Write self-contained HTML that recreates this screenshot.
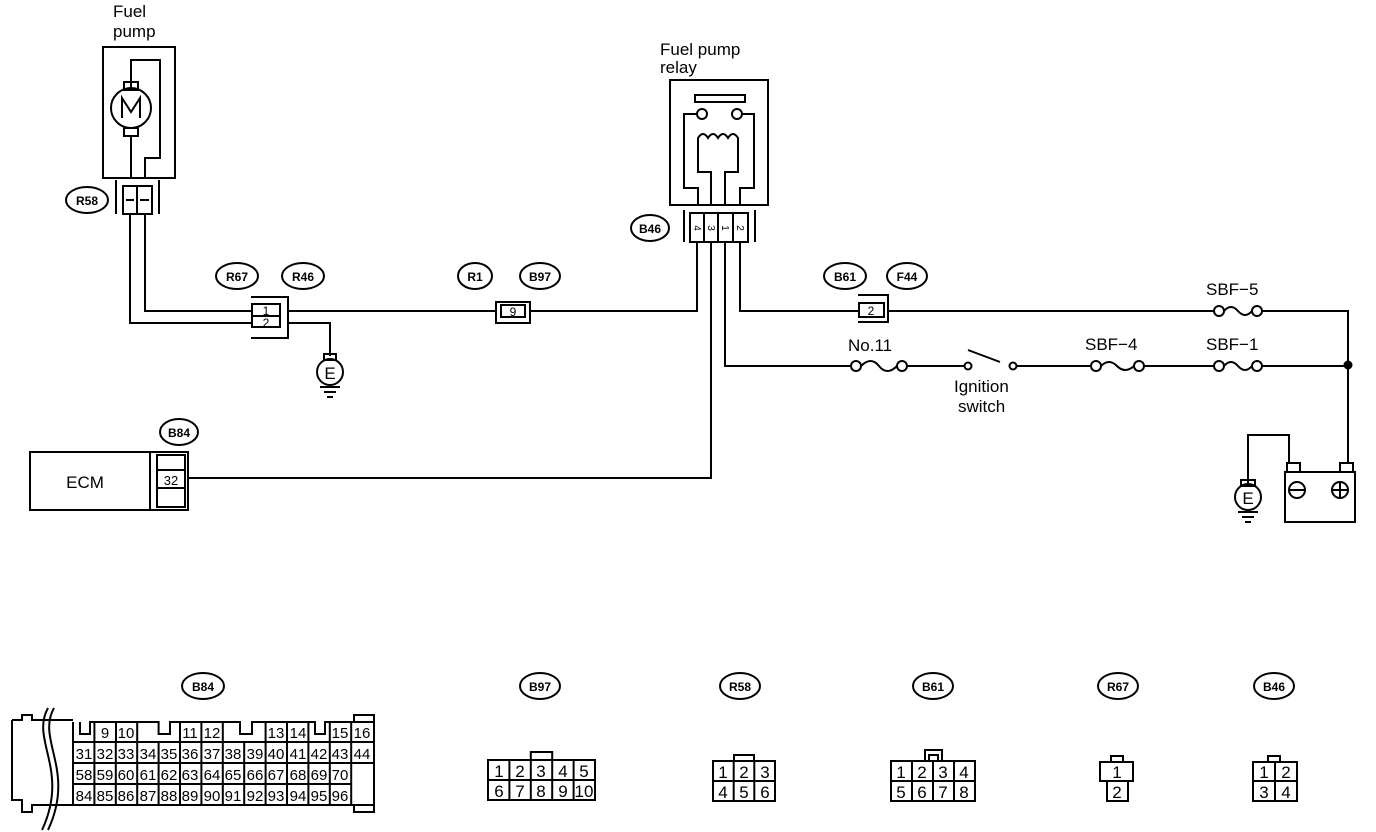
<!DOCTYPE html>
<html><head><meta charset="utf-8"><style>
html,body{margin:0;padding:0;background:#fff;}
svg{display:block;}
text{font-family:"Liberation Sans",sans-serif;fill:#000;}
.l{font-size:17px;}
.o{font-size:12px;font-weight:bold;}
.c{font-size:17px;}
</style></head><body>
<svg width="1376" height="832" viewBox="0 0 1376 832" xmlns="http://www.w3.org/2000/svg" fill="none" stroke="#000" stroke-width="2">
<!-- Fuel pump -->
<text class="l" x="113" y="17" stroke="none">Fuel</text>
<text class="l" x="113" y="37" stroke="none">pump</text>
<rect x="103" y="47" width="72" height="131"/>
<path d="M131 88 V60 H160 V158 H145 V178"/>
<rect x="124" y="82" width="14" height="8"/>
<rect x="124" y="128" width="14" height="8"/>
<circle cx="131" cy="108" r="20"/>
<path d="M122 118 V98 L131 112 L140 98 V118"/>
<path d="M131 136 V178"/>
<path d="M116 180 V214 M159 180 V214"/>
<rect x="123" y="186" width="29" height="28"/>
<path d="M137 186 V214 M126 200 H134 M140 200 H149"/>
<ellipse cx="87" cy="200" rx="21" ry="13"/>
<text class="o" x="87" y="205" text-anchor="middle" stroke="none">R58</text>
<!-- wires from pump -->
<path d="M130 214 V323 H252 M145 214 V311 H252"/>
<!-- R67 connector -->
<ellipse cx="237" cy="276" rx="21" ry="13"/>
<text class="o" x="237" y="281" text-anchor="middle" stroke="none">R67</text>
<ellipse cx="303" cy="276" rx="21" ry="13"/>
<text class="o" x="303" y="281" text-anchor="middle" stroke="none">R46</text>
<path d="M251 297 H288 V338 H251"/>
<rect x="252" y="304" width="28" height="23"/>
<path d="M252 316 H280"/>
<text x="266" y="315" font-size="12" text-anchor="middle" stroke="none">1</text>
<text x="266" y="327" font-size="12" text-anchor="middle" stroke="none">2</text>
<path d="M288 311 H496 M288 323 H330 V356"/>
<!-- ground -->
<rect x="324" y="354" width="12" height="6"/>
<circle cx="330" cy="372" r="13"/>
<text x="330" y="379" font-size="17" text-anchor="middle" stroke="none">E</text>
<path d="M320 387 H340 M324 392 H336 M327 397 H333"/>
<!-- R1/B97 -->
<ellipse cx="475" cy="276" rx="17" ry="13"/>
<text class="o" x="475" y="281" text-anchor="middle" stroke="none">R1</text>
<ellipse cx="540" cy="276" rx="20" ry="13"/>
<text class="o" x="540" y="281" text-anchor="middle" stroke="none">B97</text>
<path d="M496 302 H530 V323 H496 Z"/>
<rect x="501" y="305" width="24" height="12"/>
<text x="513" y="316" font-size="12" text-anchor="middle" stroke="none">9</text>
<path d="M530 311 H697 V242"/>
<!-- relay -->
<text class="l" x="660" y="55" stroke="none">Fuel pump</text>
<text class="l" x="660" y="73" stroke="none">relay</text>
<rect x="670" y="80" width="98" height="125"/>
<rect x="695" y="95" width="50" height="7"/>
<circle cx="702" cy="114" r="5"/><circle cx="737" cy="114" r="5"/>
<path d="M697 114 H684 V188 H698 V205 M742 114 H754 V188 H740 V205"/>
<path d="M711 205 V172 H698 V138 Q703 130 708 138 Q713 130 718 138 Q723 130 728 138 Q733 130 738 138 V172 H725 V205"/>
<path d="M684 210 V242 M755 210 V242"/>
<rect x="690" y="213" width="58" height="29"/>
<path d="M704 213 V242 M718 213 V242 M733 213 V242"/>
<text x="697" y="231" font-size="10" text-anchor="middle" stroke="none" transform="rotate(90 697 228)">4</text>
<text x="711" y="231" font-size="10" text-anchor="middle" stroke="none" transform="rotate(90 711 228)">3</text>
<text x="725" y="231" font-size="10" text-anchor="middle" stroke="none" transform="rotate(90 725 228)">1</text>
<text x="740" y="231" font-size="10" text-anchor="middle" stroke="none" transform="rotate(90 740 228)">2</text>
<ellipse cx="650" cy="228" rx="19" ry="13"/>
<text class="o" x="650" y="233" text-anchor="middle" stroke="none">B46</text>
<!-- pin2 line -->
<path d="M740 242 V311 H859"/>
<ellipse cx="845" cy="276" rx="21" ry="13"/>
<text class="o" x="845" y="281" text-anchor="middle" stroke="none">B61</text>
<ellipse cx="907" cy="276" rx="20" ry="13"/>
<text class="o" x="907" y="281" text-anchor="middle" stroke="none">F44</text>
<path d="M858 295 H888 V322 H858"/>
<rect x="859" y="303" width="25" height="14"/>
<text x="871" y="315" font-size="12" text-anchor="middle" stroke="none">2</text>
<path d="M888 311 H1214"/>
<text class="l" x="1206" y="295" stroke="none">SBF−5</text>
<circle cx="1219" cy="311" r="5"/><circle cx="1257" cy="311" r="5"/>
<path d="M1224 311 Q1231 303 1238 311 Q1245 319 1252 311"/>
<path d="M1262 311 H1348 V463"/>
<circle cx="1348" cy="365" r="3.5" fill="#000"/>
<!-- pin1 line -->
<path d="M725 242 V366 H851"/>
<text class="l" x="848" y="351" stroke="none">No.11</text>
<circle cx="856" cy="366" r="5"/><circle cx="902" cy="366" r="5"/>
<path d="M861 366 Q871 356 879 366 Q887 376 897 366"/>
<path d="M907 366 H964"/>
<circle cx="968" cy="366" r="3.5"/><circle cx="1013" cy="366" r="3.5"/>
<path d="M968 350 L1000 362"/>
<path d="M1016 366 H1091"/>
<text class="l" x="954" y="392" stroke="none">Ignition</text>
<text class="l" x="958" y="412" stroke="none">switch</text>
<text class="l" x="1085" y="350" stroke="none">SBF−4</text>
<circle cx="1096" cy="366" r="5"/><circle cx="1139" cy="366" r="5"/>
<path d="M1101 366 Q1109 358 1117 366 Q1125 374 1134 366"/>
<path d="M1144 366 H1214"/>
<text class="l" x="1206" y="350" stroke="none">SBF−1</text>
<circle cx="1219" cy="366" r="5"/><circle cx="1257" cy="366" r="5"/>
<path d="M1224 366 Q1231 358 1238 366 Q1245 374 1252 366"/>
<path d="M1262 366 H1348"/>
<!-- battery -->
<rect x="1285" y="472" width="70" height="50"/>
<rect x="1287" y="463" width="13" height="9"/>
<rect x="1340" y="463" width="13" height="9"/>
<circle cx="1297" cy="490" r="8"/><path d="M1289 490 H1305"/>
<circle cx="1340" cy="490" r="8"/><path d="M1332 490 H1348 M1340 482 V498"/>
<path d="M1289 463 V435 H1248 V484"/>
<rect x="1241" y="480" width="14" height="6"/>
<circle cx="1248" cy="497" r="13"/>
<text x="1248" y="504" font-size="17" text-anchor="middle" stroke="none">E</text>
<path d="M1238 512 H1258 M1242 517 H1254 M1245 522 H1251"/>
<!-- pin3 to ECM -->
<path d="M711 242 V478 H188"/>
<rect x="30" y="452" width="120" height="58"/>
<text x="85" y="488" font-size="17" text-anchor="middle" stroke="none">ECM</text>
<path d="M150 452 H188 V510 H150"/>
<rect x="157" y="455" width="28" height="52"/>
<path d="M157 470 H185 M157 488 H185"/>
<text x="171" y="485" font-size="13" text-anchor="middle" stroke="none">32</text>
<ellipse cx="179" cy="432" rx="19" ry="13"/>
<text class="o" x="179" y="437" text-anchor="middle" stroke="none">B84</text>

<!-- Bottom B84 -->
<ellipse cx="203" cy="686" rx="21" ry="13"/>
<text class="o" x="203" y="691" text-anchor="middle" stroke="none">B84</text>
<path d="M73 722 V805 H374 V742 M73 742 H374"/>
<path d="M12 720 H22 V715 H32 V720 H73 M12 720 V800 H22 V812 H32 V805 H73"/>
<path d="M12 720 V800" />
<path d="M48 708 C30 740 70 770 42 830 M54 708 C36 740 76 770 48 830"/>
<path d="M73 722 V742 M80 722 V734 H90 V722 H94.4 M94.4 722 V742 H137.2 V722 H94.4 M137.2 722 H158.6 V734 H170 V722 H180 V742 H222.8 V722 H180 M222.8 722 H240 V734 H252 V722 H265.6 V742 H308.4 V722 H265.6 M308.4 722 H315 V734 H325 V722 H329.8 V742 H374 V722 H329.8 M116 722 V742 M201.4 722 V742 M287 722 V742 M351.2 722 V742"/>
<rect x="354" y="715" width="20" height="7"/>
<rect x="354" y="805" width="20" height="7"/>
<path d="M94.4 742 V805 M115.8 742 V805 M137.2 742 V805 M158.6 742 V805 M180 742 V805 M201.4 742 V805 M222.8 742 V805 M244.2 742 V805 M265.6 742 V805 M287 742 V805 M308.4 742 V805 M329.8 742 V805 M351.2 742 V805 M73 763 H351.2 M73 784 H351.2 M351.2 763 H374"/>
<g stroke="none" font-size="15" text-anchor="middle">
<text x="105" y="738">9</text><text x="126" y="738">10</text><text x="190" y="738">11</text><text x="212" y="738">12</text><text x="276" y="738">13</text><text x="298" y="738">14</text><text x="340" y="738">15</text><text x="362" y="738">16</text>
<text x="84" y="759">31</text><text x="105" y="759">32</text><text x="126" y="759">33</text><text x="148" y="759">34</text><text x="169" y="759">35</text><text x="190" y="759">36</text><text x="212" y="759">37</text><text x="233" y="759">38</text><text x="255" y="759">39</text><text x="276" y="759">40</text><text x="298" y="759">41</text><text x="319" y="759">42</text><text x="340" y="759">43</text><text x="362" y="759">44</text>
<text x="84" y="780">58</text><text x="105" y="780">59</text><text x="126" y="780">60</text><text x="148" y="780">61</text><text x="169" y="780">62</text><text x="190" y="780">63</text><text x="212" y="780">64</text><text x="233" y="780">65</text><text x="255" y="780">66</text><text x="276" y="780">67</text><text x="298" y="780">68</text><text x="319" y="780">69</text><text x="340" y="780">70</text>
<text x="84" y="801">84</text><text x="105" y="801">85</text><text x="126" y="801">86</text><text x="148" y="801">87</text><text x="169" y="801">88</text><text x="190" y="801">89</text><text x="212" y="801">90</text><text x="233" y="801">91</text><text x="255" y="801">92</text><text x="276" y="801">93</text><text x="298" y="801">94</text><text x="319" y="801">95</text><text x="340" y="801">96</text>
</g>

<!-- B97 -->
<ellipse cx="540" cy="686" rx="20" ry="13"/>
<text class="o" x="540" y="691" text-anchor="middle" stroke="none">B97</text>
<rect x="488" y="760" width="107" height="40"/>
<path d="M509.4 760 V800 M530.8 760 V800 M552.2 760 V800 M573.6 760 V800 M488 780 H595 M530.8 760 V752 H552.2 V760"/>
<g stroke="none" font-size="17" text-anchor="middle">
<text x="499" y="777">1</text><text x="520" y="777">2</text><text x="541" y="777">3</text><text x="563" y="777">4</text><text x="584" y="777">5</text>
<text x="499" y="797">6</text><text x="520" y="797">7</text><text x="541" y="797">8</text><text x="563" y="797">9</text><text x="584" y="797">10</text>
</g>
<!-- R58 -->
<ellipse cx="740" cy="686" rx="20" ry="13"/>
<text class="o" x="740" y="691" text-anchor="middle" stroke="none">R58</text>
<rect x="713" y="761" width="62" height="40"/>
<path d="M733.7 761 V801 M754.3 761 V801 M713 781 H775 M734 761 V755 H754 V761"/>
<g stroke="none" font-size="17" text-anchor="middle">
<text x="723" y="778">1</text><text x="744" y="778">2</text><text x="765" y="778">3</text>
<text x="723" y="798">4</text><text x="744" y="798">5</text><text x="765" y="798">6</text>
</g>
<!-- B61 -->
<ellipse cx="933" cy="686" rx="20" ry="13"/>
<text class="o" x="933" y="691" text-anchor="middle" stroke="none">B61</text>
<rect x="891" y="761" width="84" height="40"/>
<path d="M912 761 V801 M933 761 V801 M954 761 V801 M891 781 H975 M925 761 V750 H942 V761 M929 761 V755 H938 V761"/>
<g stroke="none" font-size="17" text-anchor="middle">
<text x="901" y="778">1</text><text x="922" y="778">2</text><text x="943" y="778">3</text><text x="964" y="778">4</text>
<text x="901" y="798">5</text><text x="922" y="798">6</text><text x="943" y="798">7</text><text x="964" y="798">8</text>
</g>
<!-- R67 -->
<ellipse cx="1118" cy="686" rx="20" ry="13"/>
<text class="o" x="1118" y="691" text-anchor="middle" stroke="none">R67</text>
<rect x="1100" y="762" width="33" height="19"/>
<rect x="1107" y="781" width="21" height="20"/>
<rect x="1111" y="756" width="12" height="6"/>
<g stroke="none" font-size="17" text-anchor="middle"><text x="1117" y="778">1</text><text x="1117" y="798">2</text></g>
<!-- B46 -->
<ellipse cx="1274" cy="686" rx="20" ry="13"/>
<text class="o" x="1274" y="691" text-anchor="middle" stroke="none">B46</text>
<rect x="1253" y="762" width="44" height="39"/>
<path d="M1275 762 V801 M1253 781 H1297 M1268 762 V756 H1280 V762"/>
<g stroke="none" font-size="17" text-anchor="middle"><text x="1264" y="778">1</text><text x="1286" y="778">2</text><text x="1264" y="798">3</text><text x="1286" y="798">4</text></g>
</svg>
</body></html>
